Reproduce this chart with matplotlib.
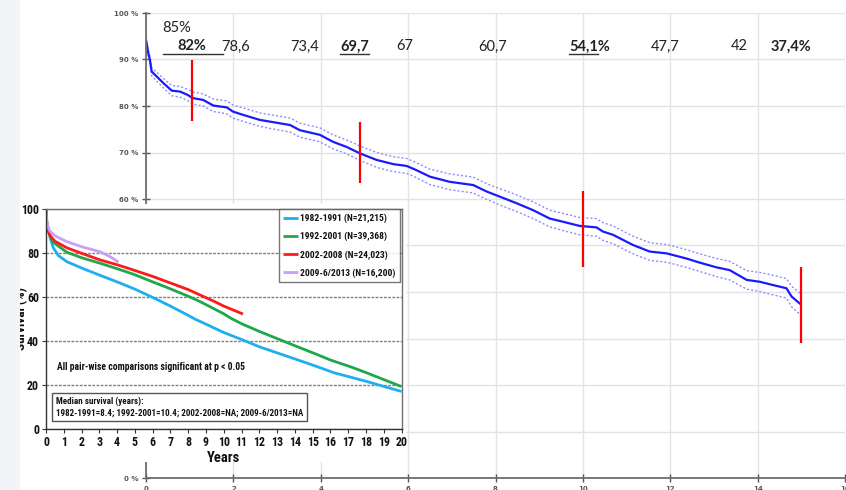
import matplotlib
matplotlib.use('Agg')
import matplotlib.pyplot as plt
from matplotlib import font_manager as fm
from matplotlib.patches import Rectangle
from matplotlib.lines import Line2D

# ---------------- main (background) chart data ----------------
main_years = [0.00, 0.05, 0.09, 0.13, 0.25, 0.40, 0.59, 0.78, 0.95, 1.07, 1.31, 1.54, 1.69, 1.85,
              1.99, 2.22, 2.61, 2.99, 3.30, 3.52, 3.98, 4.28, 4.59, 4.90, 5.28, 5.66, 5.97, 6.19,
              6.50, 6.95, 7.49, 7.80, 8.10, 8.48, 8.86, 9.24, 9.55, 9.93, 10.31, 10.46, 10.69,
              11.15, 11.53, 11.92, 12.37, 12.68, 13.06, 13.36, 13.75, 14.05, 14.35, 14.66, 14.78, 14.98]
main_surv = [94.2, 91.5, 89.9, 87.4, 86.3, 84.9, 83.3, 83.1, 82.4, 81.7, 81.3, 80.1, 79.9, 79.7,
             78.8, 78.1, 77.0, 76.4, 75.9, 74.8, 73.8, 72.3, 71.2, 69.8, 68.4, 67.5, 67.1, 66.2,
             64.8, 63.7, 63.0, 61.6, 60.5, 59.1, 57.6, 55.8, 55.1, 54.2, 53.9, 53.0, 52.3,
             50.1, 48.7, 48.3, 47.2, 46.3, 45.3, 44.7, 42.6, 42.2, 41.5, 40.8, 39.0, 37.4]
main_upper = [94.6, 92.2, 90.6, 88.2, 87.2, 85.9, 84.4, 84.2, 83.6, 83.0, 82.6, 81.5, 81.3, 81.1,
              80.2, 79.6, 78.5, 77.9, 77.4, 76.3, 75.3, 73.8, 72.7, 71.4, 70.0, 69.1, 68.7, 67.8,
              66.4, 65.4, 64.7, 63.3, 62.2, 60.9, 59.4, 57.6, 56.9, 56.0, 55.8, 54.9, 54.2,
              52.0, 50.6, 50.2, 49.1, 48.2, 47.2, 46.6, 44.6, 44.2, 43.6, 42.9, 41.2, 39.7]
main_lower = [93.8, 90.8, 89.1, 86.5, 85.3, 83.9, 82.2, 81.9, 81.2, 80.4, 80.0, 78.8, 78.6, 78.3,
              77.4, 76.7, 75.6, 74.9, 74.4, 73.3, 72.3, 70.8, 69.7, 68.3, 66.8, 65.9, 65.5, 64.6,
              63.1, 62.0, 61.3, 59.9, 58.7, 57.3, 55.8, 54.0, 53.2, 52.3, 52.0, 51.1, 50.4,
              48.2, 46.8, 46.4, 45.3, 44.4, 43.3, 42.6, 40.6, 40.1, 39.4, 38.7, 36.8, 35.1]

red_years = [1.05, 4.90, 10.0, 15.0]
red_top = [89.8, 76.5, 61.7, 45.3]
red_bottom = [76.7, 63.5, 45.4, 29.1]

top_label = '85%'
top_label_x = 0.69
row_labels = ['82%', '78,6', '73,4', '69,7', '67', '60,7', '54,1%', '47,7', '42', '37,4%']
row_bold = [True, False, False, True, False, False, True, False, False, True]
row_x = [1.06, 2.05, 3.63, 4.78, 5.93, 7.94, 10.16, 11.89, 13.59, 14.76]

main_xticks = [0, 2, 4, 6, 8, 10, 12, 14, 16]
main_yticks = [0, 10, 20, 30, 40, 50, 60, 70, 80, 90, 100]

# ---------------- inset chart data ----------------
series_names = ['1982-1991 (N=21,215)', '1992-2001 (N=39,368)',
                '2002-2008 (N=24,023)', '2009-6/2013 (N=16,200)']
blue_x = [0, 0.05, 0.13, 0.23, 0.41, 0.69, 1.17, 2.1, 3.04, 4.0, 4.92, 5.86, 7.0, 8.0, 8.4, 9.0,
          10.0, 11.2, 12.0, 13.2, 14.0, 15.25, 16.2, 17.0, 18.1, 19.0, 20.0]
blue_y = [100, 94, 91, 87, 82.5, 79, 76.2, 73, 70, 67, 64, 60.5, 56, 51.8, 50, 47.8,
          44, 40.2, 37.5, 34.2, 32, 28.5, 25.7, 24, 21.6, 19.5, 17.2]
green_x = [0, 0.05, 0.13, 0.4, 1.17, 2.0, 3.04, 4.0, 4.92, 6.0, 6.8, 8.0, 8.68, 10.0, 10.4, 11.0,
           12.0, 13.2, 14.0, 15.25, 16.0, 17.1, 18.0, 19.0, 20.0]
green_y = [100, 93, 90, 85, 80.5, 78, 75.5, 73, 70.5, 67, 64.5, 60.5, 58, 52.5, 50.5, 48,
           44.5, 40.6, 38, 34, 31.5, 28.5, 25.8, 22.6, 19.4]
red_x = [0, 0.05, 0.13, 0.23, 0.5, 1.17, 2.0, 3.04, 4.0, 4.92, 6.0, 6.8, 8.0, 8.68, 9.5, 10.0, 11.08]
red_y = [100, 93, 90, 88, 85.5, 82.5, 80, 77, 74.8, 72.4, 69.5, 67.1, 63.5, 61, 58, 56, 52.4]
purple_x = [0, 0.05, 0.13, 0.23, 0.5, 1.17, 2.0, 3.04, 3.6, 4.08]
purple_y = [100, 94, 91.5, 90, 88, 85.3, 83, 80.7, 78.5, 76]
series_colors = ['#1eb0ee', '#1fa84a', '#ff1a1a', '#c9a0f5']

inset_xticks = list(range(0, 21))
inset_yticks = [0, 20, 40, 60, 80, 100]
pair_text = 'All pair-wise comparisons significant at p < 0.05'
median_text = ('Median survival (years):\n'
               '1982-1991=8.4; 1992-2001=10.4; 2002-2008=NA; 2009-6/2013=NA')

# ---------------- fonts ----------------
ttf = fm.fontManager.ttflist
names = {f.name for f in ttf}
IFONT, ISTRETCH, K = 'Liberation Sans', 'normal', 0.82
for cand in ['Liberation Sans Narrow', 'Arial Narrow', 'Roboto Condensed',
             'Open Sans Condensed', 'Noto Sans Condensed', 'DejaVu Sans Condensed']:
    if cand in names:
        IFONT, K = cand, 1.0
        break
else:
    for fam in ['Noto Sans', 'Roboto', 'Open Sans', 'DejaVu Sans']:
        if any(f.name == fam and 'condensed' in str(f.stretch).lower() for f in ttf):
            IFONT, ISTRETCH, K = fam, 'condensed', 1.0
            break
CAL = 'Lato' if 'Lato' in names else 'DejaVu Sans'
IF = dict(family=IFONT, stretch=ISTRETCH, weight='bold')

W, H = 846, 490
fig = plt.figure(figsize=(W / 100, H / 100), dpi=100)
fig.patch.set_facecolor('white')


def rect(x0, y0, x1, y1):
    """pixel box (top-left origin) -> figure fraction [l, b, w, h]"""
    return [x0 / W, 1 - y1 / H, (x1 - x0) / W, (y1 - y0) / H]


# ---------------- main axes ----------------
ax = fig.add_axes(rect(146, 13, 845, 478), zorder=1)
ax.set_xlim(0, 16)
ax.set_ylim(0, 100)
ax.set_xticks(main_xticks)
ax.set_yticks(main_yticks)
ax.set_yticklabels([f'{v} %' for v in main_yticks])
ax.grid(True, color='#e3e3e3', lw=1.0)
ax.set_axisbelow(True)
for s in ['top', 'right']:
    ax.spines[s].set_visible(False)
for s in ['left', 'bottom']:
    ax.spines[s].set_color('#6e6e6e')
    ax.spines[s].set_linewidth(1.3)
ax.tick_params(direction='inout', length=5.5, width=1, color='#555555',
               labelsize=5, labelcolor='#555555', pad=3)
for lab in ax.get_yticklabels() + ax.get_xticklabels():
    lab.set_fontweight('bold')

ax.plot(main_years, main_upper, color='#8c8cff', lw=1.0, ls=(0, (1.5, 1.5)))
ax.plot(main_years, main_lower, color='#8c8cff', lw=1.0, ls=(0, (1.5, 1.5)))
ax.plot(main_years, main_surv, color='#1a1aff', lw=1.6)
ax.vlines(red_years, red_bottom, red_top, color='#ff0000', lw=1.6)

ax.text(top_label_x, 96.7, top_label, ha='center', va='center', fontsize=10.5,
        family=CAL, color='#222222')
row_texts = []
for t, b, x in zip(row_labels, row_bold, row_x):
    row_texts.append(ax.text(x, 92.8, t, ha='center', va='center', fontsize=10.5, family=CAL,
                             fontweight='bold' if b else 'normal', color='#222222'))

# ---------------- inset background ----------------
bg = fig.add_axes(rect(20, 204, 406, 462), zorder=2)
bg.set_facecolor('white')
bg.set_xticks([])
bg.set_yticks([])
for s in bg.spines.values():
    s.set_visible(False)

# ---------------- inset axes ----------------
ia = fig.add_axes(rect(46, 209.3, 401.5, 429.3), zorder=3)
ia.set_xlim(0, 20)
ia.set_ylim(0, 100)
ia.set_xticks(inset_xticks)
ia.set_yticks(inset_yticks)
ia.yaxis.grid(True, color='#808080', lw=1.0, ls=(0, (2, 1)))
ia.set_axisbelow(True)
for s in ia.spines.values():
    s.set_color('#707070')
    s.set_linewidth(1.0)
ia.spines['left'].set_color('#333333')
ia.spines['bottom'].set_color('#333333')
ia.tick_params(direction='out', length=3, width=0.8, color='#333333', pad=2)
for lab in ia.get_xticklabels() + ia.get_yticklabels():
    lab.set_family(IFONT)
    lab.set_stretch(ISTRETCH)
    lab.set_fontweight('bold')
    lab.set_fontsize(8.6 * K)
    lab.set_color('#111111')

lines = []
for xs, ys, c in zip([blue_x, green_x, red_x, purple_x], [blue_y, green_y, red_y, purple_y],
                     series_colors):
    ln, = ia.plot(xs, ys, color=c, lw=2.0, solid_capstyle='butt')
    lines.append(ln)

leg = ia.legend(lines, series_names, loc='upper right', bbox_to_anchor=(0.997, 1.0),
                borderaxespad=0, frameon=True, fancybox=False, handlelength=1.5,
                handletextpad=0.3, labelspacing=0.92 / K, borderpad=0.5 / K,
                prop=dict(size=6.8 * K, **IF))
leg.get_frame().set_edgecolor('#555555')
leg.get_frame().set_linewidth(1.0)
for t in leg.get_texts():
    t.set_color('#111111')

ia.text(0.62, 28.2, pair_text, ha='left', va='center', fontsize=6.9 * K,
        color='#111111', **IF)
ia.text(0.55, 10.1, median_text, ha='left', va='center', fontsize=6.5 * K,
        color='#111111', linespacing=1.25,
        bbox=dict(boxstyle='square,pad=0.4', fc='white', ec='#555555', lw=1.0), **IF)
ia.set_xlabel('Years', fontsize=10.5 * K, labelpad=1.5, color='#111111', **IF)

fig.text(21.5 / W, 1 - 319 / H, 'Survival (%)', rotation=90, ha='center', va='center',
         fontsize=9.5 * K, color='#111111', zorder=4, **IF)

# left light strip
fig.add_artist(Rectangle((0, 0), 20 / W, 1, transform=fig.transFigure,
                         facecolor='#f2f4f7', edgecolor='none', zorder=10))

# ---------------- underlines for emphasised labels ----------------
fig.canvas.draw()
r = fig.canvas.get_renderer()
inv = fig.transFigure.inverted()


def underline(x0, x1, y):
    (fx0, fy), (fx1, _) = inv.transform([(x0, y), (x1, y)])
    fig.add_artist(Line2D([fx0, fx1], [fy, fy], transform=fig.transFigure,
                          color='#333333', lw=1.0, zorder=6))


for t, lab in zip(row_texts, row_labels):
    bb = t.get_window_extent(r)
    if lab == '82%':
        underline(bb.x0 - 15, bb.x1 + 16, bb.y0 - 0.5)
    elif lab == '69,7':
        underline(bb.x0, bb.x1, bb.y0 - 0.5)
    elif lab == '54,1%':
        underline(bb.x0, bb.x0 + 0.70 * bb.width, bb.y0 - 0.5)

fig.savefig('out.png', dpi=100)
